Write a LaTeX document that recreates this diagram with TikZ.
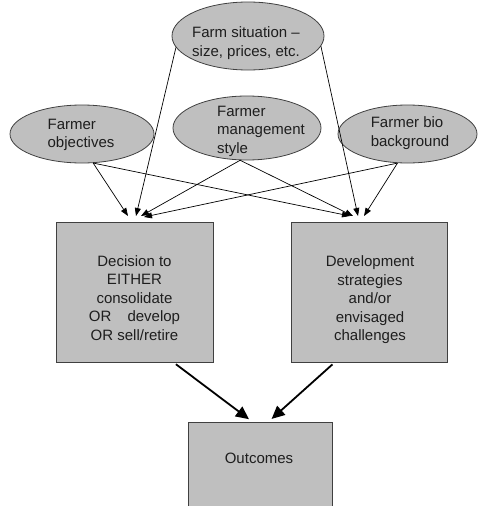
\documentclass[tikz,border=0pt]{standalone}
\usepackage{fontspec}
\setmainfont{Liberation Sans}
\usetikzlibrary{shapes.geometric,arrows.meta}
\definecolor{boxfill}{RGB}{191,191,191}
\definecolor{boxline}{RGB}{64,64,64}
\definecolor{ink}{RGB}{30,30,30}
\begin{document}
\begin{tikzpicture}[x=1pt,y=-1pt,
  txt/.style={font=\fontsize{15}{18.5}\selectfont, text=ink, align=center, inner sep=0pt},
  txtl/.style={txt, align=left},
  factor/.style={ellipse, draw=boxline, line width=0.8pt, fill=boxfill, inner sep=0pt},
  panel/.style={rectangle, draw=boxline, line width=0.8pt, fill=boxfill, inner sep=0pt},
  feed/.style={draw=black, line width=0.7pt, -{Triangle[length=8pt,width=6pt]}},
  result/.style={draw=black, line width=1.8pt, -{Triangle[length=13pt,width=12pt]},
    shorten <=3pt, shorten >=4pt}
]
\useasboundingbox (0,0) rectangle (477,506);

% influencing factors
\node[factor, minimum width=152pt, minimum height=68pt] (farm) at (248,36) {};
\node[txt] (farmT) at (246,43) {Farm situation --\\size, prices, etc.};

\node[factor, minimum width=144pt, minimum height=58pt] (obj) at (82,134) {};
\node[txtl] (objT) at (81,135) {Farmer\\objectives};

\node[factor, minimum width=148pt, minimum height=64pt] (mgmt) at (247,128) {};
\node[txtl] (mgmtT) at (261,131) {Farmer\\management\\style};

\node[factor, minimum width=139pt, minimum height=58pt] (bio) at (407.5,134) {};
\node[txtl] (bioT) at (410,133) {Farmer bio\\background};

% decision panels
\node[panel, minimum width=157pt, minimum height=140pt] (dec) at (134.5,292) {};
\node[txt] (decT) at (134.5,298) {Decision to\\EITHER\\consolidate\\OR\hspace{12pt} develop\\OR sell/retire};

\node[panel, minimum width=156pt, minimum height=140pt] (strat) at (369,292) {};
\node[txt] (stratT) at (370,300) {Development\\strategies\\and/or\\envisaged\\challenges};

\node[panel, minimum width=144pt, minimum height=88pt] (out) at (260,466) {};
\node[txt] (outT) at (259,458) {Outcomes};

% arrow tips above the panels
\coordinate (dA) at (128,216);
\coordinate (dB) at (136,216);
\coordinate (dC) at (141,216);
\coordinate (dD) at (144,217);
\coordinate (sA) at (350,216);
\coordinate (sB) at (353,216);
\coordinate (sC) at (358,216);
\coordinate (sD) at (364,216);

% factor links
\draw[feed] (obj.-69) -- (dA);
\draw[feed] (obj.-69) -- (sA);
\draw[feed] (farm.-171) -- (dB);
\draw[feed] (farm.-8) -- (sC);
\draw[feed] (mgmt.-102) -- (dC);
\draw[feed] (mgmt.-102) -- (sB);
\draw[feed] (bio.-109) -- (dD);
\draw[feed] (bio.-109) -- (sD);

% to outcomes
\draw[result] (dec.-61) -- (out.100.6);
\draw[result] (strat.-116) -- (out.79.4);
\end{tikzpicture}
\end{document}
